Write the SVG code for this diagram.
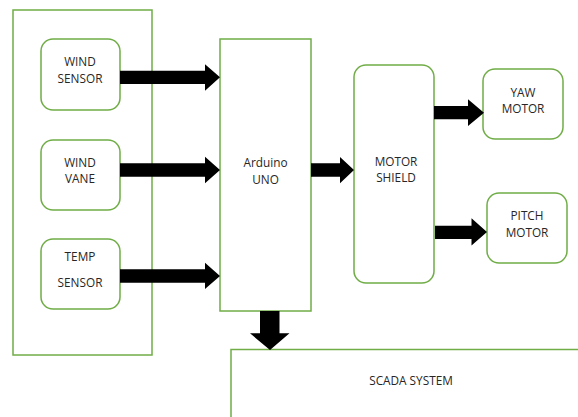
<svg xmlns="http://www.w3.org/2000/svg" width="578" height="417" viewBox="0 0 578 417">
<style>
.box{fill:#fff;stroke:#70AD47;stroke-width:1.5}
.t{font-family:"Open Sans","Liberation Sans",sans-serif;font-size:11.8px;fill:#262626;text-anchor:middle}
.a{fill:#000}
</style>
<rect width="578" height="417" fill="#fff"/>
<g id="sensors-group"><rect class="box" x="13" y="10" width="139" height="345"/></g>
<g id="wind-sensor"><rect class="box" x="41" y="39" width="79" height="71" rx="12"/><text class="t" x="80" y="66">WIND</text><text class="t" x="80" y="83">SENSOR</text></g>
<g id="wind-vane"><rect class="box" x="41" y="140" width="79" height="70" rx="12"/><text class="t" x="80" y="166.5">WIND</text><text class="t" x="80" y="182.5">VANE</text></g>
<g id="temp-sensor"><rect class="box" x="41" y="239" width="79" height="70" rx="12"/><text class="t" x="80" y="261">TEMP</text><text class="t" x="80" y="286.5">SENSOR</text></g>
<g id="arduino"><rect class="box" x="220" y="39" width="91" height="272"/><text class="t" x="265.5" y="167">Arduino</text><text class="t" x="265.5" y="183.5">UNO</text></g>
<g id="motor-shield"><rect class="box" x="354" y="65" width="80" height="218" rx="12"/><text class="t" x="396" y="165.5">MOTOR</text><text class="t" x="396" y="182">SHIELD</text></g>
<g id="yaw-motor"><rect class="box" x="483" y="69" width="80" height="70" rx="12"/><text class="t" x="523" y="96.5">YAW</text><text class="t" x="523" y="112.5">MOTOR</text></g>
<g id="pitch-motor"><rect class="box" x="487" y="193" width="80" height="70" rx="12"/><text class="t" x="527" y="220">PITCH</text><text class="t" x="527" y="236.5">MOTOR</text></g>
<g id="scada"><path class="box" d="M231,418 V349.5 H579"/><text class="t" x="411" y="384.5">SCADA SYSTEM</text></g>
<g id="connectors">
<polygon class="a" points="120,70.7 205,70.7 205,64.3 220,77.3 205,90.7 205,84 120,84"/>
<polygon class="a" points="120,163.3 205,163.3 205,156.7 220,170 205,183.3 205,176.7 120,176.7"/>
<polygon class="a" points="120,269.3 205,269.3 205,262.7 220,276 205,289 205,282.7 120,282.7"/>
<polygon class="a" points="311,163.3 340,163.3 340,157 354,170 340,183.3 340,176.7 311,176.7"/>
<polygon class="a" points="434,106 468,106 468,99.3 484,112.7 468,126 468,119.3 434,119.3"/>
<polygon class="a" points="435,225.7 471.5,225.7 471.5,218.3 487,232 471.5,245.5 471.5,239 435,239"/>
<polygon class="a" points="260,311 279.5,311 279.5,333.3 289.5,333.3 270,350 250,333.3 260,333.3"/>
</g>
</svg>
